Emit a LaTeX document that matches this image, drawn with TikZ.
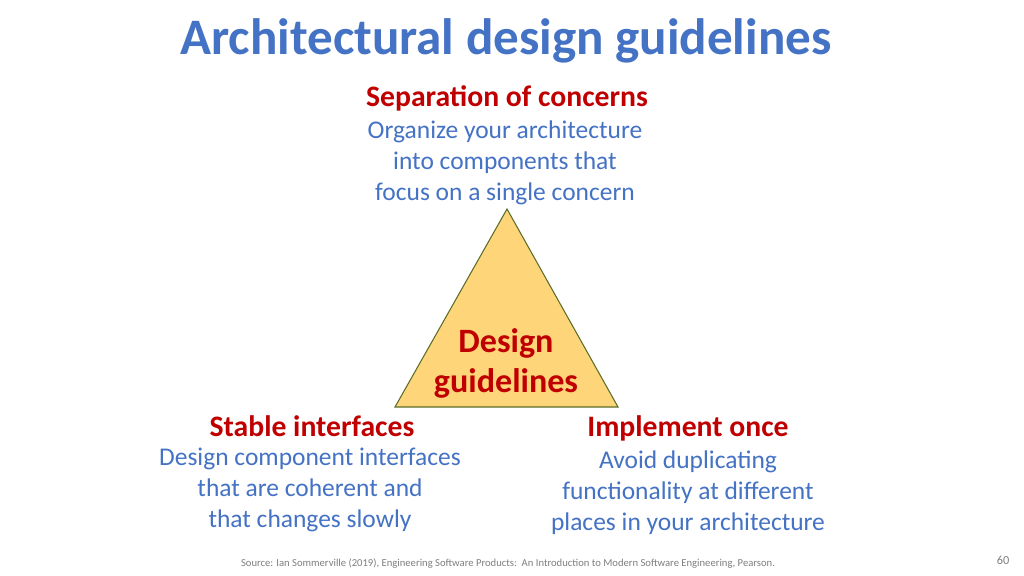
\documentclass[tikz,border=0pt]{standalone}
\usepackage{fontspec}
\setmainfont{Carlito}
\usepackage{xcolor}
\usepackage{tikz}
\definecolor{slideblue}{HTML}{4472C4}
\definecolor{slidered}{HTML}{C00000}
\definecolor{pyramidfill}{HTML}{FFD579}
\definecolor{pyramiddraw}{HTML}{5A6E28}
\definecolor{footgray}{HTML}{7F7F7F}
\tikzset{
heading/.style = { text = slidered, font = \bfseries\fontsize{16.9}{19}\selectfont, inner sep = 0pt },
explain/.style = { text = slideblue, font = \fontsize{14.5}{17.6}\selectfont, align = center, inner sep = 0pt },
}
\begin{document}
\begin{tikzpicture}[x=0.02cm, y=0.02cm]
    \useasboundingbox[fill=white] (0,0) rectangle (1024,575);
    % title
    \node[text=slideblue, font=\bfseries\fontsize{29.1}{33}\selectfont, inner sep=0pt] (title) at (506,534) {Architectural design guidelines};
    % the triangle
    \coordinate (apex) at (507,366);
    \coordinate (bl) at (395,168);
    \coordinate (br) at (618,168);
    \path[draw=pyramiddraw, fill=pyramidfill, line width=0.6pt] (apex) -- (bl) -- (br) -- cycle;
    \node[text=slidered, font=\bfseries\fontsize{19.4}{22.7}\selectfont, align=center, inner sep=0pt] (core) at (506,212) {Design\\guidelines};
    % three guidelines
    \begin{scope}[every node/.style={anchor=center}]
      \node[heading] (sep) at (507,477) {Separation of concerns};
      \node[explain] (sepx) at (505,412) {Organize your architecture\\into components that\\focus on a single concern};
      \node[heading] (stab) at (312,149) {Stable interfaces};
      \node[explain] (stabx) at (310,85) {Design component interfaces\\that are coherent and\\that changes slowly};
      \node[heading] (impl) at (688,147) {Implement once};
      \node[explain] (implx) at (688,82) {Avoid duplicating\\functionality at different\\places in your architecture};
    \end{scope}
    % footer
    \node[text=footgray, font=\fontsize{6.05}{7}\selectfont, inner sep=0pt] (src) at (508,11) {Source: Ian Sommerville (2019), Engineering Software Products:\ \ An Introduction to Modern Software Engineering, Pearson.};
    \node[text=footgray, font=\fontsize{7}{8}\selectfont, inner sep=0pt] (page) at (1003,15) {60};
\end{tikzpicture}
\end{document}
